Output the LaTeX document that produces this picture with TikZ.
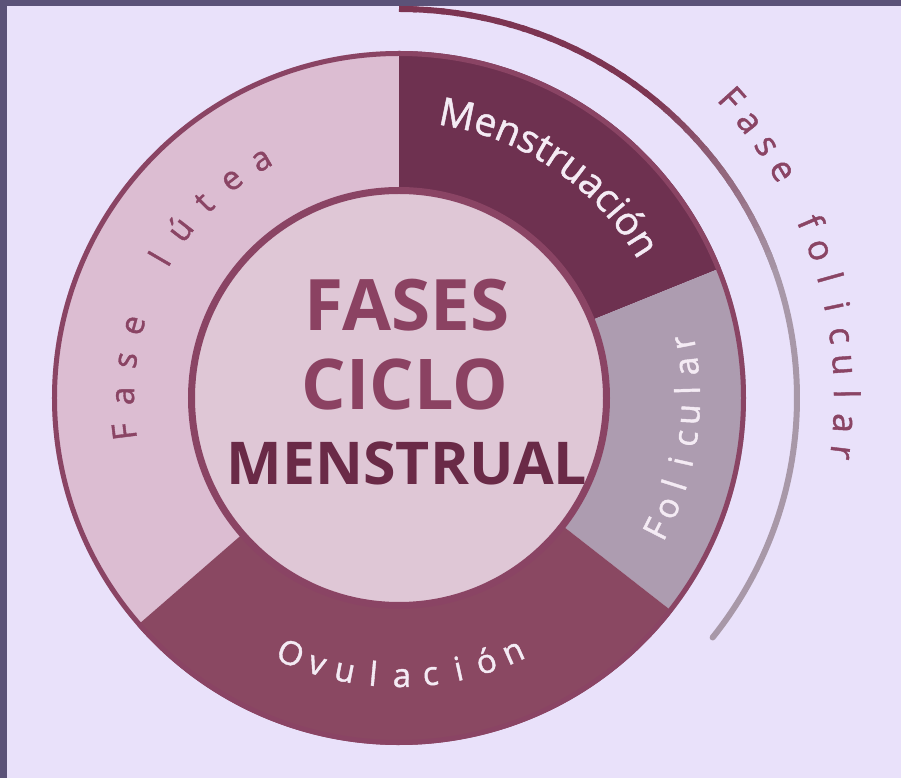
\documentclass[tikz,border=0pt]{standalone}
\usepackage{fontspec}
\setmainfont{Open Sans}[FakeBold=1.2]
\newfontfamily\titlefont{Open Sans}
\usepackage{xcolor}
\usepackage{tikz}
\usetikzlibrary{calc}
\usetikzlibrary{decorations.text}

\definecolor{paper}{HTML}{E9E1FA}
\definecolor{frame}{HTML}{5B5278}
\definecolor{lutea}{HTML}{DCBDD2}
\definecolor{core}{HTML}{DFC7D6}
\definecolor{ringline}{HTML}{8A4464}
\definecolor{menstr}{HTML}{6E3150}
\definecolor{folic}{HTML}{AD9CB0}
\definecolor{ovul}{HTML}{8A4862}
\definecolor{titlecol}{HTML}{8B4262}
\definecolor{titledark}{HTML}{6A2A47}
\definecolor{arcdark}{HTML}{7D3552}
\definecolor{arcgrey}{HTML}{A898A8}
\definecolor{lighttext}{HTML}{F4EBF4}

\begin{document}
\begin{tikzpicture}[x=1pt,y=1pt,
  ringlabel/.style={inner sep=0pt,anchor=base,font=\fontsize{33}{33}\selectfont},
  titletext/.style={inner sep=0pt,anchor=base,font=\titlefont\bfseries}]
\useasboundingbox (-399,-380) rectangle (502,398);
\fill[paper] (-399,-380) rectangle (502,398);
\fill[frame] (-399,392) rectangle (502,398);
\fill[frame] (-399,-380) rectangle (-392,398);

% ring segments
\fill[lutea] (90:347pt) arc (90:221:347pt) -- (221:200pt) arc (221:90:200pt) -- cycle;
\fill[menstr] (22:347pt) arc (22:90:347pt) -- (90:200pt) arc (90:22:200pt) -- cycle;
\fill[folic] (-38:347pt) arc (-38:22:347pt) -- (22:200pt) arc (22:-38:200pt) -- cycle;
\fill[ovul] (221:347pt) arc (221:322:347pt) -- (322:200pt) arc (322:221:200pt) -- cycle;
\draw[ringline,line width=5pt] (0,0) circle (344.5pt);
\fill[core] (0,0) circle (207.5pt);
\draw[ringline,line width=7pt] (0,0) circle (207.5pt);

% fase folicular bracket
\draw[arcgrey,line width=6pt,line cap=round] (-38:398pt and 389pt) arc[start angle=-38,end angle=40,x radius=398pt,y radius=389pt];
\foreach \a in {90,88,...,22}{
  \pgfmathtruncatemacro\p{min(100,max(0,(\a-20)*100/32))}
  \draw[arcdark!\p!arcgrey,line width=6pt] (\a:398pt and 389pt) arc[start angle=\a,end angle=\a-2.6,x radius=398pt,y radius=389pt];
}

% centre title
\node[titletext,text=titlecol,font=\titlefont\bfseries\fontsize{71}{71}\selectfont] (fases) at (8,67) {FASES};
\node[titletext,text=titlecol,font=\titlefont\bfseries\fontsize{70}{70}\selectfont] (ciclo) at (6,-12) {CICLO};
\node[titletext,text=titledark,font=\titlefont\bfseries\fontsize{59}{59}\selectfont] (menstrual) at (8,-86) {MENSTRUAL};

% ring labels
\path[decorate,decoration={text along path,text color=lighttext,text align=center,
  text={|\fontsize{39}{39}\selectfont|Menstruación}}] (88:276pt) arc (88:24:276pt);
\foreach \ch [count=\i from 0] in {F,a,s,e,{},l,ú,t,e,a}
  \node[ringlabel,text=ringline,rotate={97-7.44*\i}] (lu-\i) at ({187-7.44*\i}:265pt) {\ch};
\foreach \ch [count=\i from 0] in {O,v,u,l,a,c,i,ó,n}
  \node[ringlabel,text=lighttext,rotate={337+5.9*\i}] (ov-\i) at ({247+5.9*\i}:289pt) {\ch};
\foreach \ch [count=\i from 0] in {F,o,l,i,c,u,l,a,r}
  \node[ringlabel,text=lighttext,font=\fontsize{34}{34}\selectfont,rotate={63+4.75*\i}] (fo-\i) at ({-27+4.75*\i}:301pt) {\ch};
\foreach \ch [count=\i from 0] in {F,a,s,e,{},f,o,l,i,c,u,l,a,r}
  \node[ringlabel,text=ringline,font=\fontsize{35}{35}\selectfont,rotate={-48-3.77*\i}] (ff-\i) at ({42-3.77*\i}:435pt) {\ch};
\end{tikzpicture}
\end{document}
